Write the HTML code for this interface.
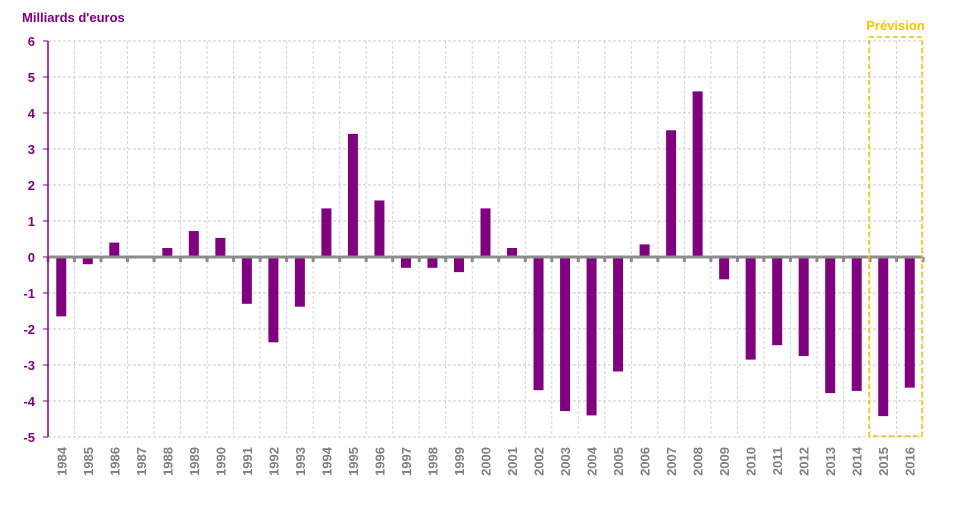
<!DOCTYPE html>
<html><head><meta charset="utf-8"><style>
body{margin:0;background:#fff;font-family:"Liberation Sans",sans-serif}
</style></head><body>
<svg id="c" width="963" height="504" xmlns="http://www.w3.org/2000/svg"></svg>
<script>
const years=[1984,1985,1986,1987,1988,1989,1990,1991,1992,1993,1994,1995,1996,1997,1998,1999,2000,2001,2002,2003,2004,2005,2006,2007,2008,2009,2010,2011,2012,2013,2014,2015,2016];
const values=[-1.65,-0.2,0.4,0,0.25,0.72,0.53,-1.3,-2.37,-1.38,1.35,3.42,1.57,-0.3,-0.3,-0.42,1.35,0.25,-3.7,-4.28,-4.4,-3.18,0.35,3.52,4.6,-0.62,-2.85,-2.45,-2.75,-3.78,-3.72,-4.42,-3.63];
const yTicks=[6,5,4,3,2,1,0,-1,-2,-3,-4,-5];
const forecastYears=[2015,2016];
const L=48,R=923,T=41,B=437,yMin=-5,yMax=6;
const step=(R-L)/years.length;
const y=v=>T+(yMax-v)*(B-T)/(yMax-yMin);
const xc=i=>L+step*(i+0.5);
const s=document.getElementById('c');
const NS='http://www.w3.org/2000/svg';
function mk(t,a,p){const e=document.createElementNS(NS,t);for(const k in a)e.setAttribute(k,a[k]);(p||s).appendChild(e);return e;}
// horizontal grid
yTicks.forEach(v=>{
  const g=mk('line',{x1:L,x2:R,y1:y(v),y2:y(v),stroke:'#c8c8c8','stroke-dasharray':'3,2','stroke-width':1});
  
  
  const t=mk('text',{x:35,y:y(v)+5,'text-anchor':'end','font-size':13,'font-weight':'bold',fill:'#800080'});
  t.textContent=v;
  
  
  mk('line',{x1:L-5,x2:L,y1:y(v),y2:y(v),stroke:'#800080','stroke-width':1});
});
for(let i=1;i<=years.length;i++){
  const g=mk('line',{x1:L+step*i,x2:L+step*i,y1:T,y2:B,stroke:'#d4d4d4','stroke-dasharray':'3,2','stroke-width':1});
  
  
}
// bars
years.forEach((yr,i)=>{
  const v=values[i];
  const b=mk('rect',{x:xc(i)-5,y:Math.min(y(v),y(0)),width:10,height:Math.abs(y(v)-y(0)),fill:'#800080'});
  
  
  const t=mk('text',{x:0,y:0,transform:`translate(${xc(i)+5},447) rotate(-90)`,'text-anchor':'end','font-size':13,'font-weight':'bold',fill:'#808080'});
  t.textContent=yr;
  
  
});
// zero line + ticks
const z=mk('line',{x1:L,x2:R,y1:y(0),y2:y(0),stroke:'#8c8c8c','stroke-width':3});


for(let i=0;i<=years.length;i++)mk('rect',{x:L+step*i-1.5,y:y(0),width:3,height:5,fill:'#8c8c8c'});
const ya=mk('line',{x1:L,x2:L,y1:T,y2:B,stroke:'#800080','stroke-width':1.5});


// forecast box
const fi=years.indexOf(forecastYears[0]);
const fb=mk('rect',{x:L+step*fi-1,y:37,width:step*forecastYears.length,height:399,fill:'none',stroke:'#f5c400','stroke-width':1.5,'stroke-dasharray':'5,3'});


const ft=mk('text',{x:L+step*fi+step*forecastYears.length/2-1,y:30,'text-anchor':'middle','font-size':13,'font-weight':'bold',fill:'#f5c400'});
ft.textContent='Prévision';


const yt=mk('text',{x:22,y:22,'font-size':13,'font-weight':'bold',fill:'#800080'});
yt.textContent="Milliards d'euros";


</script>
</body></html>
